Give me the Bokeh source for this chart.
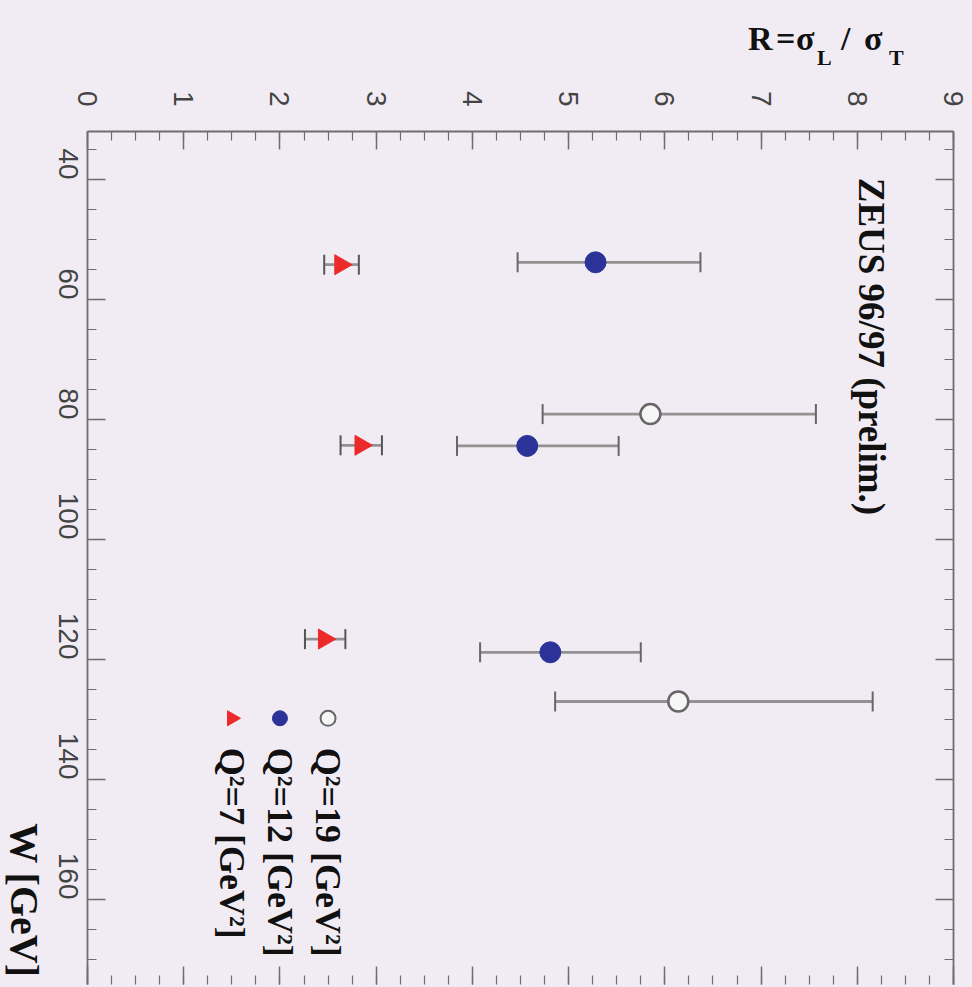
import math
from bokeh.plotting import figure
from bokeh.layouts import column
from bokeh.models import (Range1d, LinearAxis, FixedTicker, Whisker, TeeHead,
                          ColumnDataSource, Label, Div)
from bokeh.embed import file_html
from bokeh.resources import INLINE

# ---------------- data ----------------
W_Q7 = [54.2, 84.3, 116.6]
R_Q7 = [2.63, 2.84, 2.46]
R_Q7_LO = [2.46, 2.63, 2.26]
R_Q7_HI = [2.82, 3.06, 2.68]

W_Q12 = [53.8, 84.4, 118.8]
R_Q12 = [5.28, 4.57, 4.81]
R_Q12_LO = [4.47, 3.84, 4.08]
R_Q12_HI = [6.37, 5.52, 5.75]

W_Q19 = [79.1, 127.0]
R_Q19 = [5.85, 6.14]
R_Q19_LO = [4.73, 4.86]
R_Q19_HI = [7.57, 8.16]

R_TICKS = [0, 1, 2, 3, 4, 5, 6, 7, 8, 9]
W_TICKS = [40, 60, 80, 100, 120, 140, 160]
LEGEND_LABELS = ["Q\u00b2=19 [GeV\u00b2]", "Q\u00b2=12 [GeV\u00b2]", "Q\u00b2=7 [GeV\u00b2]"]

# ---------------- style ----------------
BG = "#f1ecf4"
AX = "#6e6e6e"
RED = "#ec2a2a"
BLUE = "#2b3399"
ERR = "#929292"
SERIF = "Liberation Serif"
SANS = "Liberation Sans"
ROT = -math.pi / 2
HEAD_H = 80

# ---------------- header with the R axis title ----------------
def piece(txt, left, top, size):
    return ('<span style="position:absolute;left:%dpx;top:%.1fpx;font-size:%dpx;'
            'line-height:1;white-space:nowrap;">%s</span>' % (left, top, size, txt))


head_html = (
    '<div style="position:relative;width:972px;height:%dpx;'
    'font-family:\'Liberation Serif\',serif;font-weight:bold;color:#111111;">' % HEAD_H
    + piece("R", 748, 21.5, 34)
    + piece("=", 776, 21.5, 34)
    + piece("\u03c3", 796, 21.5, 34)
    + piece("L", 817, 47.0, 22)
    + piece("/", 841, 21.5, 34)
    + piece("\u03c3", 864, 21.5, 34)
    + piece("T", 889, 47.0, 22)
    + '</div>'
)
head = Div(text=head_html, width=972, height=HEAD_H, margin=(0, 0, 0, 0),
           styles={"background-color": BG, "overflow": "visible"})

# ---------------- figure ----------------
p = figure(width=972, height=987 - HEAD_H,
           x_range=Range1d(0, 9), y_range=Range1d(174.17, 32),
           output_backend="svg", toolbar_location=None,
           x_axis_location=None, y_axis_location=None,
           min_border_left=87, min_border_top=131 - HEAD_H,
           min_border_right=19, min_border_bottom=3)
p.margin = (0, 0, 0, 0)
p.background_fill_color = BG
p.border_fill_color = BG
p.outline_line_color = None
p.grid.visible = False

r_minor = [i * 0.25 for i in range(37)]
w_minor = list(range(35, 175, 5))


def make_axis(ticks, minor, labels):
    ax = LinearAxis(ticker=FixedTicker(ticks=ticks, minor_ticks=minor))
    ax.major_tick_in = 18
    ax.major_tick_out = 0
    ax.minor_tick_in = 9
    ax.minor_tick_out = 0
    ax.major_tick_line_color = AX
    ax.minor_tick_line_color = AX
    ax.major_tick_line_width = 1.5
    ax.minor_tick_line_width = 1.2
    ax.axis_line_color = AX
    ax.axis_line_width = 1.8
    if labels:
        ax.major_label_text_font = SANS
        ax.major_label_text_font_size = "28px"
        ax.major_label_text_color = "#444444"
        ax.major_label_orientation = ROT
    else:
        ax.major_label_text_font_size = "1px"
        ax.major_label_text_alpha = 0
        ax.major_label_standoff = 0
    return ax


top_ax = make_axis(R_TICKS, r_minor, True)
top_ax.major_label_standoff = 25
p.add_layout(top_ax, "above")

bot_ax = make_axis(R_TICKS, r_minor, False)
bot_ax.axis_line_color = None
p.add_layout(bot_ax, "below")

left_ax = make_axis(W_TICKS, w_minor, True)
left_ax.major_label_standoff = 19
p.add_layout(left_ax, "left")

right_ax = make_axis(W_TICKS, w_minor, False)
p.add_layout(right_ax, "right")

# ---------------- error bars ----------------
def add_errors(w, lo, hi, cap_color):
    src = ColumnDataSource(dict(w=w, lo=lo, hi=hi))
    wk = Whisker(base="w", lower="lo", upper="hi", dimension="width", source=src,
                 line_color=ERR, line_width=2.8, level="underlay",
                 upper_head=TeeHead(size=20, line_color=cap_color, line_width=2),
                 lower_head=TeeHead(size=20, line_color=cap_color, line_width=2))
    p.add_layout(wk)


add_errors(W_Q7, R_Q7_LO, R_Q7_HI, "#555555")
add_errors(W_Q12, R_Q12_LO, R_Q12_HI, "#666666")
add_errors(W_Q19, R_Q19_LO, R_Q19_HI, "#666666")

# ---------------- markers ----------------
p.scatter(R_Q7, W_Q7, marker="triangle", angle=ROT, size=20,
          fill_color=RED, line_color=RED)
p.scatter(R_Q12, W_Q12, marker="circle", size=21,
          fill_color=BLUE, line_color=BLUE)
p.scatter(R_Q19, W_Q19, marker="circle", size=20,
          fill_color="#f6f6f6", line_color="#666666", line_width=2.5)

# ---------------- legend (rotated, drawn by hand) ----------------
leg_r = [2.5, 2.0, 1.5]
leg_w = [129.8, 129.8, 129.8]
p.scatter([leg_r[0]], [leg_w[0]], marker="circle", size=15,
          fill_color="#f6f6f6", line_color="#666666", line_width=2)
p.scatter([leg_r[1]], [leg_w[1]], marker="circle", size=15,
          fill_color=BLUE, line_color=BLUE)
p.scatter([leg_r[2]], [leg_w[2]], marker="triangle", angle=ROT, size=15,
          fill_color=RED, line_color=RED)
for rr, txt in zip(leg_r, LEGEND_LABELS):
    p.add_layout(Label(x=rr, y=134.7, text=txt, angle=ROT,
                       text_align="left", text_baseline="middle",
                       text_font=SERIF, text_font_style="bold",
                       text_font_size="36px", text_color="#111111"))

# ---------------- texts ----------------
p.add_layout(Label(x=8.15, y=39.7, text="ZEUS 96/97 (prelim.)", angle=ROT,
                   text_align="left", text_baseline="middle",
                   text_font=SERIF, text_font_style="bold",
                   text_font_size="37px", text_color="#111111"))

p.add_layout(Label(x=-0.655, y=147.3, text="W [GeV]", angle=ROT,
                   text_align="left", text_baseline="middle",
                   text_font=SERIF, text_font_style="bold",
                   text_font_size="40px", text_color="#111111"), "left")

layout = column(head, p, spacing=0, margin=(0, 0, 0, 0),
                styles={"background-color": BG})

html = file_html(layout, INLINE)
html = html.replace("<head>", "<head><style>body{background:%s;}</style>" % BG, 1)
open("out.html", "w").write(html)
